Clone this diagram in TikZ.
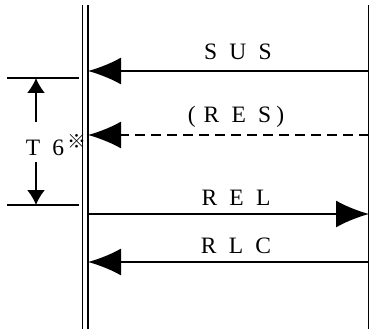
\documentclass[tikz,border=0pt]{standalone}
\usepackage{fontspec}
\setmainfont[LetterSpace=52]{Liberation Serif}
\newfontfamily\markfont{Noto Sans CJK JP}
\usetikzlibrary{arrows.meta}

\begin{document}
\begin{tikzpicture}[x=1pt, y=-1pt, line width=1.8pt,
                    msg/.style={-{Latex[length=33pt,width=27pt]}},
                    span/.style={-{Latex[length=15pt,width=18pt]}},
                    lbl/.style={anchor=base,inner sep=0pt,font=\fontsize{23.5}{27}\selectfont}]

  \useasboundingbox (0,0) rectangle (370,329);

  % lifelines
  \coordinate (la1) at (82.5,5);   \coordinate (la2) at (82.5,329);
  \coordinate (lb1) at (88,5);     \coordinate (lb2) at (88,329);
  \coordinate (rc1) at (368.5,5);  \coordinate (rc2) at (368.5,329);
  \draw (la1) -- (la2);
  \draw (lb1) -- (lb2);
  \draw (rc1) -- (rc2);

  % messages
  \coordinate (susR) at (368.5,71);  \coordinate (susL) at (88,71);
  \coordinate (resR) at (368.5,135); \coordinate (resL) at (88,135);
  \coordinate (relL) at (88,214);    \coordinate (relR) at (369,214);
  \coordinate (rlcR) at (368.5,262); \coordinate (rlcL) at (88,262);

  \draw[msg] (susR) -- (susL);
  \draw[msg,dash pattern=on 10pt off 6pt] (resR) -- (resL);
  \draw[msg] (relL) -- (relR);
  \draw[msg] (rlcR) -- (rlcL);

  \node[lbl] (sus) at (238,60) {SUS};
  \node[lbl] (res) at (236,123) {(\kern8pt RES\kern5pt)};
  \node[lbl] (rel) at (236,205) {REL};
  \node[lbl] (rlc) at (236,253) {RLC};

  % timer T6
  \coordinate (tTop1) at (7,78);  \coordinate (tTop2) at (79,78);
  \coordinate (tBot1) at (7,205); \coordinate (tBot2) at (79,205);
  \draw (tTop1) -- (tTop2);
  \draw (tBot1) -- (tBot2);

  \node[lbl,anchor=base west] (t6) at (25,155)
    {T6\kern3pt\raisebox{6pt}{\markfont\fontsize{19}{19}\selectfont ※}};

  \coordinate (upFrom) at (36,122);   \coordinate (upTo) at (36,78);
  \coordinate (dnFrom) at (36,162);   \coordinate (dnTo) at (36,205);
  \draw[span] (upFrom) -- (upTo);
  \draw[span] (dnFrom) -- (dnTo);
\end{tikzpicture}
\end{document}
